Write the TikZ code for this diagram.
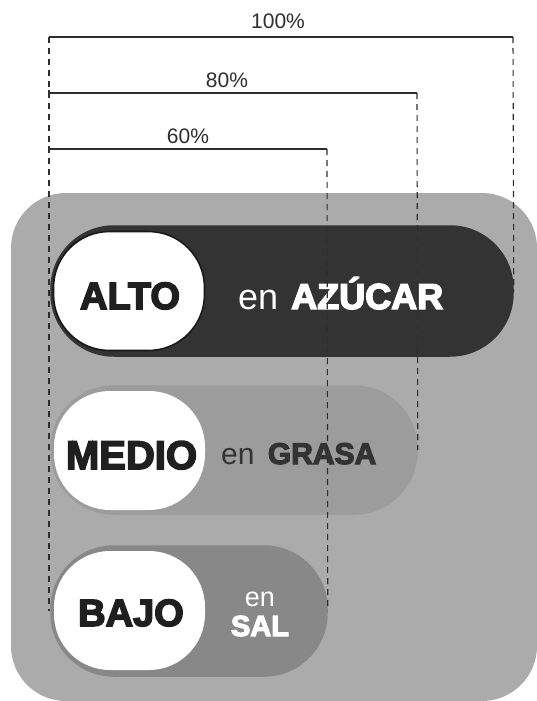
\documentclass[tikz,border=0pt]{standalone}
\usepackage{fontspec}
\setmainfont{Liberation Sans}
\newfontfamily\heavy{Liberation Sans}[UprightFont={* Bold},UprightFeatures={FakeBold=4},BoldFont={* Bold},BoldFeatures={FakeBold=4}]
\definecolor{bgbox}{HTML}{ABABAB}
\definecolor{altoc}{HTML}{333333}
\definecolor{medioc}{HTML}{9C9C9C}
\definecolor{bajoc}{HTML}{888888}
\definecolor{linec}{HTML}{2E2E2E}
\begin{document}
\begin{tikzpicture}[x=1pt,y=-1pt,
  bar/.style={draw=#1,fill=#1,line width=1.5pt,rounded corners=63pt,inner sep=0pt},
  pill/.style={fill=white,rounded corners=56pt,inner sep=0pt,minimum width=151pt,minimum height=119pt},
  lvl/.style={inner sep=0pt,anchor=base,font=\heavy\fontsize{38}{40}\selectfont,text=black!88},
  pct/.style={inner sep=0pt,anchor=base,font=\fontsize{21}{24}\selectfont,text=linec},
  dim/.style={draw=linec,line width=1.3pt},
  guide/.style={draw=linec,line width=1.1pt,dash pattern=on 6pt off 5pt}]
\useasboundingbox (0,0) rectangle (537,701);
% background box
\fill[bgbox,rounded corners=55pt] (11,193) rectangle (537,701);
% bars
\node[bar=altoc,minimum width=462pt,minimum height=130pt] (alto) at (282,291) {};
\node[pill,draw=black!90,line width=1.6pt] (altow) at (129,291) {};
\node[bar=medioc,minimum width=366pt,minimum height=128pt] (medio) at (234,450) {};
\node[pill] (mediow) at (129.5,450.5) {};
\node[bar=bajoc,minimum width=276pt,minimum height=130pt] (bajo) at (189,611) {};
\node[pill] (bajow) at (129.5,610.5) {};
% texts
\node[lvl] (altot) at (130,309) {ALTO};
\node[inner sep=0pt,anchor=base west,text=white,font=\fontsize{36}{40}\selectfont] (azucar) at (238,309) {en\hspace{3pt} {\heavy AZÚCAR}};
\node[lvl,font=\heavy\fontsize{40}{42}\selectfont] (mediot) at (131.5,469) {MEDIO};
\node[inner sep=0pt,anchor=base west,text=altoc,font=\fontsize{30}{34}\selectfont] (grasa) at (221,464) {en\hspace{5pt} {\heavy GRASA}};
\node[lvl] (bajot) at (131,626) {BAJO};
\node[inner sep=0pt,anchor=base,text=white,font=\fontsize{27}{30}\selectfont] (en3) at (260,606) {en};
\node[inner sep=0pt,anchor=base,text=white,font=\heavy\fontsize{29}{32}\selectfont] (sal) at (260,636) {SAL};
% dimension coordinates
\coordinate (l100) at (49,37);
\coordinate (r100) at (513,37);
\coordinate (l80) at (49,93);
\coordinate (r80) at (417,93);
\coordinate (l60) at (49,149);
\coordinate (r60) at (327,149);
\coordinate (lend) at (49,611);
% guides
\path[guide] (l100) -- (lend);
\path[guide] (r100) -- (alto.east);
\path[guide] (r80) -- (medio.east);
\path[guide] (r60) -- (bajo.east);
\path[dim] (l100) -- (r100);
\path[dim] (l80) -- (r80);
\path[dim] (l60) -- (r60);
\path[dim] (l80) -- ++(0,-3) (l80) -- ++(0,3);
\path[dim] (l60) -- ++(0,-3) (l60) -- ++(0,3);
% labels
\node[pct] (p100) at (278,29) {100\%};
\node[pct] (p80) at (227,88) {80\%};
\node[pct] (p60) at (188,143) {60\%};
\end{tikzpicture}
\end{document}
